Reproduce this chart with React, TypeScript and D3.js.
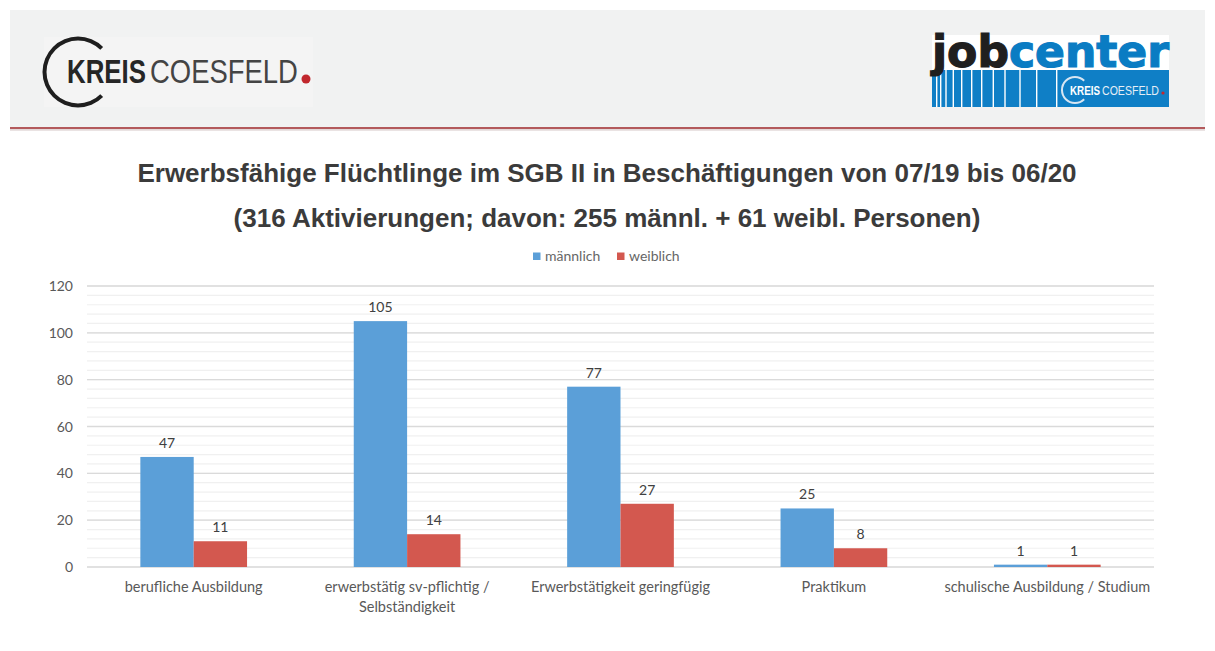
import React from "react";
import * as d3 from "d3";

const categories = [
  "berufliche Ausbildung",
  "erwerbstätig sv-pflichtig / Selbständigkeit",
  "Erwerbstätigkeit geringfügig",
  "Praktikum",
  "schulische Ausbildung / Studium",
];
const seriesNames = ["männlich", "weiblich"];
const maennlich = [47, 105, 77, 25, 1];
const weiblich = [11, 14, 27, 8, 1];
const yTicks = [0, 20, 40, 60, 80, 100, 120];
const yMinorTicks = d3.range(0, 121, 4);
const titleLines = [
  "Erwerbsfähige Flüchtlinge im SGB II in Beschäftigungen von 07/19 bis 06/20",
  "(316 Aktivierungen; davon: 255 männl. + 61 weibl. Personen)",
];

const W = 1215;
const H = 651;
const plot = { left: 87, right: 1154, top: 286, bottom: 567 };
const colors = ["#5b9fd8", "#d3584f"];
const axisFont = "'Liberation Sans', Arial, sans-serif";
const labelFont = "Lato, 'Open Sans', sans-serif";

let measureCtx: CanvasRenderingContext2D | null = null;
function measure(text: string, font: string): number {
  if (!measureCtx) measureCtx = document.createElement("canvas").getContext("2d");
  if (!measureCtx) return text.length * 7;
  measureCtx.font = font;
  return measureCtx.measureText(text).width;
}

// simple word wrap
function wrap(text: string, maxWidth: number, font: string): string[] {
  const words = text.split(" ");
  const lines: string[] = [];
  let cur = "";
  words.forEach((w) => {
    const next = cur ? cur + " " + w : w;
    if (measure(next, font) > maxWidth && cur) {
      lines.push(cur);
      cur = w;
    } else cur = next;
  });
  if (cur) lines.push(cur);
  return lines;
}

// C-shaped ring, open to the right
function ringArc(inner: number, outer: number) {
  return (
    d3.arc()({
      innerRadius: inner,
      outerRadius: outer,
      startAngle: Math.PI * 0.75,
      endAngle: Math.PI * 2.25,
    } as any) || ""
  );
}

// text squeezed horizontally to a given width
function FitText({ x, y, width, size, weight, fill, family, children }: any) {
  const natural = measure(children, `${weight} ${size}px ${family}`);
  const sx = natural > 0 ? width / natural : 1;
  return (
    <text
      transform={`translate(${x},${y}) scale(${sx},1)`}
      fontFamily={family}
      fontSize={size}
      fontWeight={weight}
      fill={fill}
    >
      {children}
    </text>
  );
}

function CoesfeldLogo() {
  return (
    <g>
      <rect x={44} y={37} width={269} height={70} fill="#f4f4f4" />
      <path d={ringArc(31.5, 35.5)} transform="translate(78,72)" fill="#1e1e1e" />
      <FitText x={67} y={83} width={79} size={33} weight="bold" fill="#262626" family="Liberation Sans">
        KREIS
      </FitText>
      <FitText x={150} y={83} width={148} size={33} weight="normal" fill="#444444" family="Liberation Sans">
        COESFELD
      </FitText>
      <circle cx={306} cy={79} r={4.5} fill="#c1272d" />
    </g>
  );
}

function JobcenterLogo() {
  const stripes = [936.7, 940.7, 946, 953.3, 961.7, 971.7, 981.7, 993.3, 1005, 1020, 1036.7, 1056.7];
  return (
    <g>
      <rect x={932} y={35} width={237} height={72} fill="#ffffff" />
      <rect x={932} y={70} width={237} height={37} fill="#0f7fc6" />
      {stripes.map((x, i) => (
        <rect key={i} x={x - 0.7} y={70} width={1.4} height={37} fill="#ffffff" />
      ))}
      <text
        x={932}
        y={67}
        fontFamily="'DejaVu Sans', sans-serif"
        fontWeight="bold"
        fontSize={44}
        textLength={237}
        lengthAdjust="spacingAndGlyphs"
        strokeWidth={1.2}
      >
        <tspan fill="#1f1f1f" stroke="#1f1f1f">job</tspan>
        <tspan fill="#0a7cc3" stroke="#0a7cc3">center</tspan>
      </text>
      <path d={ringArc(12, 14)} transform="translate(1075,90)" fill="#d8e6f2" />
      <FitText x={1070} y={95} width={30} size={12} weight="bold" fill="#ffffff" family="Liberation Sans">
        KREIS
      </FitText>
      <FitText x={1102} y={95} width={57} size={12} weight="normal" fill="#e6eef6" family="Liberation Sans">
        COESFELD
      </FitText>
      <circle cx={1163} cy={93} r={1.6} fill="#c1272d" />
    </g>
  );
}

export default function App() {
  const x = d3.scaleBand<string>().domain(categories).range([plot.left, plot.right]);
  const bw = x.bandwidth();
  const xSub = d3.scaleBand<string>().domain(seriesNames).range([bw / 4, (bw * 3) / 4]);
  const y = d3.scaleLinear().domain([0, 120]).range([plot.bottom, plot.top]);
  const series = [maennlich, weiblich];

  const catFont = `14.5px ${labelFont}`;

  return (
    <svg
      width={W}
      height={H}
      viewBox={`0 0 ${W} ${H}`}
      style={{ position: "absolute", left: 0, top: 0, background: "#ffffff" }}
    >
      <rect x={0} y={0} width={W} height={H} fill="#ffffff" />
      {/* header */}
      <rect x={10} y={10} width={1195} height={118} fill="#f1f2f2" />
      <rect x={10} y={127} width={1195} height={2.2} fill="#b35a5c" />
      <rect x={10} y={129.2} width={1195} height={1.5} fill="#e2d8d8" />
      <CoesfeldLogo />
      <JobcenterLogo />

      {/* title */}
      {titleLines.map((t, i) => (
        <text
          key={i}
          x={607}
          y={182 + i * 45}
          textAnchor="middle"
          fontFamily={axisFont}
          fontWeight="bold"
          fontSize={26}
          fill="#3b3b3b"
        >
          {t}
        </text>
      ))}

      {/* legend */}
      {seriesNames.map((s, i) => {
        const lx = [533, 617][i];
        return (
          <g key={s}>
            <rect x={lx} y={252.5} width={7.5} height={7.5} fill={colors[i]} />
            <text x={lx + 12} y={261} fontFamily={labelFont} fontSize={14} fill="#666666">
              {s}
            </text>
          </g>
        );
      })}

      {/* gridlines */}
      {yMinorTicks.map((t) => (
        <line key={"m" + t} x1={plot.left} x2={plot.right} y1={y(t)} y2={y(t)} stroke="#f0f0f0" strokeWidth={1.2} />
      ))}
      {yTicks.map((t) => (
        <line key={"g" + t} x1={plot.left} x2={plot.right} y1={y(t)} y2={y(t)} stroke="#dadada" strokeWidth={1.4} />
      ))}
      {yTicks.map((t) => (
        <text key={"t" + t} x={73} y={y(t) + 5} textAnchor="end" fontFamily={labelFont} fontSize={14} fill="#595959">
          {t}
        </text>
      ))}

      {/* bars */}
      {categories.map((c, ci) => (
        <g key={c}>
          {series.map((vals, si) => {
            const bx = (x(c) || 0) + (xSub(seriesNames[si]) || 0);
            const v = vals[ci];
            return (
              <g key={si}>
                <rect x={bx} y={y(v)} width={xSub.bandwidth()} height={y(0) - y(v)} fill={colors[si]} />
                <text
                  x={bx + xSub.bandwidth() / 2}
                  y={y(v) - 9}
                  textAnchor="middle"
                  fontFamily={labelFont}
                  fontSize={14}
                  fill="#404040"
                >
                  {v}
                </text>
              </g>
            );
          })}
          {wrap(c, bw - 2, catFont).map((line, li) => (
            <text
              key={li}
              x={(x(c) || 0) + bw / 2}
              y={592 + li * 20}
              textAnchor="middle"
              fontFamily={labelFont}
              fontSize={14.5}
              fill="#595959"
            >
              {line}
            </text>
          ))}
        </g>
      ))}
    </svg>
  );
}
